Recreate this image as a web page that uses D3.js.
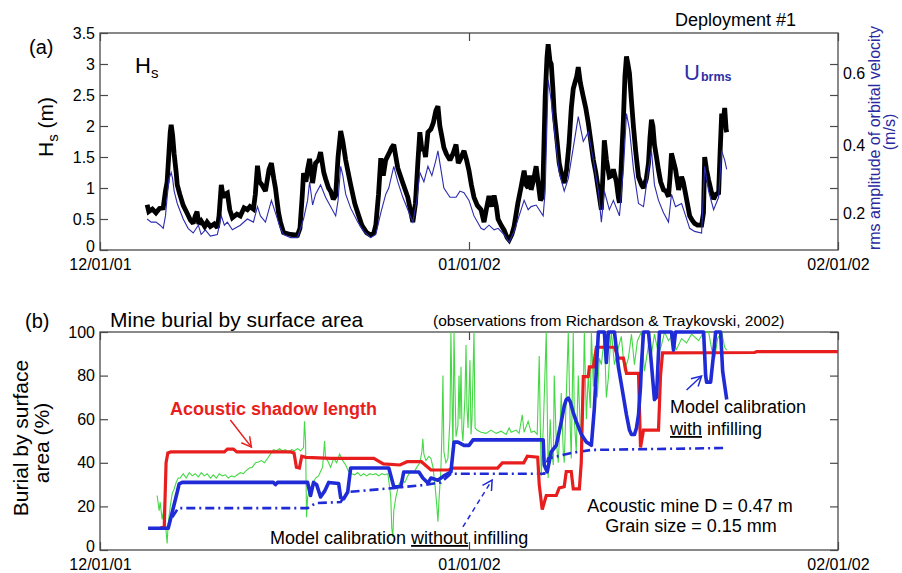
<!DOCTYPE html>
<html><head><meta charset="utf-8">
<script src="https://cdn.jsdelivr.net/npm/d3@7"></script>
<style>
body{margin:0;background:#fff;}
svg{display:block;font-family:Arial,"Liberation Sans",sans-serif;}
</style></head><body>
<svg id="c" width="902" height="573"></svg>
<script>
// ---------------- DATA ----------------
const startDate = "2001-12-01";
const xTickDays = [0, 31, 62];
const xTickLabels = ["12/01/01", "01/01/02", "02/01/02"];
const hsTicks = [0, 0.5, 1, 1.5, 2, 2.5, 3, 3.5];
const ubTicks = [0.2, 0.3, 0.4, 0.5, 0.6, 0.7];
const ubTickLabels = ["0.2", "", "0.4", "", "0.6", ""];
const burialTicks = [0, 20, 40, 60, 80, 100];

// Panel (a): significant wave height Hs (m), days since 12/01/01
const hsDays = [3.96,4.10,4.40,4.70,5.00,5.31,5.50,5.64,5.80,5.90,5.98,6.10,6.23,6.40,6.49,6.70,6.99,7.30,7.60,7.83,8.00,8.15,8.30,8.50,8.80,9.00,9.27,9.60,9.86,10.00,10.19,10.35,10.50,10.70,10.90,11.12,11.50,11.79,12.10,12.38,12.60,12.89,13.05,13.23,13.40,13.60,13.90,14.20,14.40,14.60,14.74,15.00,15.16,15.42,16.00,16.59,16.80,17.00,17.10,17.30,17.44,17.61,17.86,18.11,18.35,18.53,18.80,18.95,19.20,19.37,19.60,19.80,20.00,20.22,20.40,20.64,21.06,21.40,21.65,22.00,22.40,22.74,23.00,23.17,23.40,23.59,23.80,24.00,24.26,24.50,24.68,24.90,25.02,25.44,25.86,26.28,26.50,26.70,26.87,27.05,27.21,27.35,27.55,27.80,28.00,28.22,28.39,28.55,28.70,28.89,29.10,29.40,29.65,29.91,30.10,30.24,30.58,30.80,31.00,31.20,31.42,31.70,32.01,32.26,32.50,32.68,32.90,33.11,33.30,33.44,33.70,33.95,34.20,34.37,34.60,34.79,35.10,35.38,35.63,35.80,35.97,36.10,36.22,36.45,36.64,36.80,37.00,37.15,37.23,37.40,37.55,37.65,37.80,37.91,38.05,38.16,38.40,38.58,38.80,39.00,39.20,39.40,39.60,39.76,39.90,40.05,40.18,40.35,40.60,40.80,41.02,41.20,41.45,41.65,41.87,42.00,42.12,42.25,42.37,42.55,42.79,43.00,43.13,43.38,43.55,43.64,43.80,43.97,44.10,44.23,44.35,44.48,44.65,44.82,45.00,45.24,45.50,45.66,45.90,46.08,46.20,46.33,46.45,46.58,46.75,46.92,47.10,47.34,47.55,47.76,47.90,48.01,48.15,48.35,48.61,48.86,49.00,49.20,49.54,49.75,49.95,50.20,50.54,50.70,50.80,50.95,51.13,51.35,51.55,51.75,51.97,52.10,52.23,52.35,52.48,52.60,52.65];
const hsValues = [0.73,0.62,0.66,0.60,0.67,0.68,0.95,1.10,1.60,1.90,2.02,1.85,1.55,1.25,1.05,0.90,0.72,0.60,0.48,0.43,0.55,0.62,0.42,0.47,0.38,0.45,0.38,0.42,0.36,0.55,1.05,0.85,0.90,0.92,0.65,0.52,0.58,0.55,0.68,0.65,0.70,0.66,0.90,1.36,1.10,1.05,0.95,1.30,1.40,1.15,1.00,0.60,0.45,0.28,0.25,0.24,0.35,0.90,1.24,1.10,1.30,1.47,1.08,1.40,1.45,1.58,1.25,1.15,1.00,0.95,0.82,0.88,1.50,1.92,1.75,1.45,1.05,0.75,0.60,0.40,0.28,0.24,0.27,0.40,0.90,1.48,1.20,1.45,1.55,1.65,1.70,1.45,1.32,1.08,0.85,0.45,0.75,1.40,1.90,1.60,1.65,1.50,1.90,1.95,2.05,2.25,2.32,2.00,1.85,1.65,1.55,1.45,1.55,1.70,1.40,1.45,1.60,1.45,1.28,1.05,0.85,0.72,0.65,0.45,0.70,0.87,0.70,0.88,0.70,0.50,0.40,0.32,0.20,0.16,0.25,0.38,0.75,1.02,1.28,1.05,1.00,1.20,0.97,1.15,1.35,1.10,0.80,0.85,1.20,2.47,3.10,3.32,3.05,3.00,2.60,2.20,1.75,1.40,1.20,1.08,1.30,1.70,2.30,2.60,2.70,2.80,2.95,2.70,2.47,2.30,2.05,1.80,1.45,1.25,0.97,0.80,0.65,1.20,1.77,1.45,1.18,1.20,1.30,1.10,0.85,0.76,1.40,2.10,2.80,3.12,3.00,2.85,2.40,1.98,1.60,1.18,1.05,1.00,1.15,1.40,1.80,2.10,2.00,1.70,1.50,1.29,1.10,0.97,0.95,0.86,1.20,1.56,1.45,1.30,0.97,1.18,1.10,0.90,0.55,0.48,0.43,0.40,0.40,0.60,1.50,1.30,1.13,0.95,0.82,0.90,0.92,1.60,2.20,2.05,2.29,1.95,1.90];

// Panel (a): rms orbital velocity Ubrms (m/s)
const ubDays = [3.96,4.30,4.70,5.05,5.31,5.50,5.64,5.80,5.98,6.10,6.23,6.49,6.99,7.40,7.83,8.26,8.50,8.85,9.27,9.86,10.19,10.45,10.70,11.12,11.79,12.38,12.89,13.23,13.48,13.90,14.40,14.74,15.16,15.42,16.01,16.59,17.10,17.44,17.61,17.86,18.11,18.53,18.95,19.37,19.80,20.00,20.22,20.40,20.64,21.06,21.65,22.15,22.74,23.17,23.59,24.01,24.26,24.68,25.02,25.44,25.86,26.28,26.62,26.87,27.21,27.55,27.88,28.22,28.39,28.64,28.89,29.40,29.91,30.24,30.58,31.00,31.42,32.01,32.26,32.68,33.11,33.44,33.95,34.37,34.79,35.38,35.63,35.97,36.22,36.64,36.90,37.23,37.40,37.65,37.91,38.16,38.58,39.00,39.34,39.76,40.18,40.60,41.02,41.45,41.87,42.12,42.37,42.79,43.13,43.64,43.97,44.23,44.48,44.82,45.24,45.66,46.08,46.33,46.58,46.92,47.34,47.76,48.01,48.35,48.86,49.20,49.54,49.95,50.54,50.80,51.13,51.55,51.97,52.23,52.48,52.65];
const ubValues = [0.20,0.19,0.19,0.18,0.17,0.21,0.27,0.33,0.35,0.33,0.29,0.25,0.20,0.17,0.155,0.18,0.15,0.165,0.145,0.15,0.21,0.18,0.19,0.165,0.18,0.20,0.19,0.24,0.21,0.19,0.26,0.22,0.17,0.15,0.14,0.14,0.20,0.26,0.32,0.245,0.28,0.31,0.27,0.24,0.21,0.26,0.37,0.34,0.28,0.235,0.19,0.16,0.14,0.15,0.22,0.28,0.30,0.37,0.32,0.27,0.23,0.19,0.26,0.35,0.32,0.37,0.34,0.39,0.42,0.36,0.30,0.27,0.27,0.29,0.285,0.26,0.21,0.17,0.165,0.18,0.165,0.17,0.15,0.125,0.16,0.23,0.26,0.23,0.24,0.245,0.23,0.21,0.29,0.65,0.58,0.49,0.35,0.29,0.33,0.43,0.53,0.45,0.48,0.39,0.29,0.19,0.29,0.23,0.26,0.21,0.36,0.54,0.49,0.36,0.25,0.24,0.36,0.42,0.31,0.26,0.22,0.19,0.28,0.24,0.25,0.21,0.17,0.16,0.155,0.37,0.29,0.23,0.27,0.42,0.39,0.36];

// Panel (b): observed burial (%) (Richardson & Traykovski, 2002)
const obsDays = [4.80,4.97,5.05,5.22,5.39,5.56,5.64,5.73,5.90,6.07,6.23,6.40,6.57,6.74,6.99,7.24,7.50,7.75,8.00,8.26,8.51,8.76,9.01,9.27,9.52,9.77,10.02,10.28,10.53,10.78,11.04,11.29,11.54,11.79,12.05,12.30,12.55,12.80,13.06,13.31,13.56,13.82,14.07,14.32,14.57,14.83,15.08,15.33,15.58,15.84,16.09,16.34,16.60,16.85,17.10,17.18,17.27,17.35,17.44,17.61,17.86,18.11,18.36,18.53,18.70,18.87,18.95,19.12,19.37,19.63,19.88,20.13,20.39,20.64,20.89,21.14,21.40,21.65,21.90,22.15,22.41,22.66,22.91,23.17,23.42,23.67,23.92,24.18,24.35,24.43,24.51,24.60,24.68,24.85,25.10,25.36,25.61,25.86,26.11,26.37,26.62,26.87,27.04,27.12,27.21,27.38,27.63,27.80,27.97,28.14,28.30,28.39,28.47,28.64,28.73,28.81,28.89,29.06,29.23,29.40,29.48,29.57,29.65,29.74,29.82,29.91,30.07,30.16,30.24,30.33,30.41,30.49,30.66,30.75,30.83,30.92,31.08,31.17,31.25,31.42,31.51,31.67,32.01,32.43,32.85,33.28,33.70,34.12,34.37,34.54,34.96,35.21,35.47,35.63,35.97,36.22,36.48,36.73,36.90,36.98,37.07,37.23,37.32,37.49,37.65,37.82,37.91,38.08,38.16,38.33,38.50,38.67,38.75,38.92,39.00,39.17,39.34,39.51,39.59,39.76,39.85,40.01,40.18,40.35,40.44,40.60,40.69,40.86,41.02,41.19,41.28,41.45,41.53,41.78,41.95,42.12,42.37,42.54,42.71,42.88,42.96,43.22,43.55,43.80,44.06,44.39,44.65,44.90,45.15,45.49,45.74,46.08,46.33,46.58,46.92,47.17,47.43,47.76,48.01,48.43,48.86,49.28,49.70,50.29,50.71,51.13,51.39,51.64,51.89,52.23,52.48,52.65];
const obsBurial = [25,18,22,14,20,8,3,12,20,26,28,31,33,33,35,33,35.5,34,35,33.5,35.5,34,35,33,34.5,33,35,34,34.5,33,34,33.5,34.5,35.5,35,36.5,37.6,38,40,40.4,41,40,42,44,46,45.5,46.5,45.5,46,44.5,46,45.5,46.5,45.5,47,59,50,15,24,28,30,33,34,36,38,50,42,41,38,42,40,44,41,39,36,35,34.5,35.5,34,35,34,35,34.5,35,34,35,34.5,35,28,24,10,6,18,24,30,32,31,34,36,35.5,38,40,45,51,44,41,43,42,38,30,20,13,22,37,55,80,45,40,42,60,100,70,45,100,75,52,57,80,60,84,55,50,70,94,65,56,87,53,60,100,56,55,54,53.5,55,53.5,54.5,53,56,54,55,53.5,62,54,59,54,54.5,53,89,60,34,55,70,100,33,60,48,39,80,50,40,60,72,45,40,70,100,55,42,100,60,45,80,55,40,70,100,60,80,65,100,75,90,70,88,85,98,70,79,95,100,85,93,98,82,88,99,85,96,100,82,94,90,99,90,94,100,96,98,92,97,95,99,96,100,100,92,88,97,100,93,91.7];

// Panel (b): acoustic shadow length burial (%)
const shadowDays = [5.10,5.40,5.55,5.70,5.95,10.45,10.70,11.20,11.50,16.00,16.30,16.50,16.75,16.95,17.30,19.40,23.00,23.80,25.20,25.80,27.00,27.80,29.30,29.65,33.40,33.80,35.60,35.90,36.77,36.90,37.15,37.49,38.33,38.58,39.00,39.17,39.59,39.76,40.27,40.43,40.60,41.02,41.11,41.45,41.70,43.22,43.55,43.97,44.23,45.24,45.41,45.66,46.92,47.09,47.26,55.00,55.18,62.00];
const shadowBurial = [10,11,40,44.5,45,45,46.3,46.3,45,45,44.5,38,37.6,43,42.5,42,42,39.5,39,40.5,40.5,36.7,36.7,37.6,37.6,40,40,43,42.6,30,18.5,25,25,28.5,29,36,36,28,28,40,79.5,79.5,84,84,93,93,88,88,81,81,47,55,55,80,90.4,90.6,91,91];

// Panel (b): model calibration WITH infilling (%)
const withDays = [4.04,5.73,6.07,6.49,6.65,6.91,14.57,14.74,14.91,17.44,17.69,17.94,18.20,18.53,18.87,19.21,20.05,20.22,20.47,20.81,21.06,24.26,24.68,25.27,25.52,26.79,27.12,27.55,27.80,28.39,28.89,29.48,29.74,30.07,30.58,31.00,31.34,37.23,37.32,37.57,37.91,38.33,38.75,39.00,39.17,39.34,39.51,39.76,40.01,40.44,40.86,41.28,41.53,41.78,41.87,42.37,42.54,42.71,43.22,43.55,43.80,44.23,44.48,44.65,44.90,45.07,45.24,45.41,45.49,45.66,46.08,46.33,46.58,46.75,47.00,48.01,48.18,48.35,50.71,50.88,50.96,51.30,51.55,51.72,52.14,52.31,52.65];
const withBurial = [10,10,17.4,26.6,30.3,31,31,30,31,31,25,31,30,24.3,27,31,30.5,24,23.5,26.6,37.6,37.6,29,29,35.8,35.8,33,30.7,33,32,34,35.8,49.5,49.5,48,48,50.5,50.5,39,35.8,45,48,58.7,66,69,69.7,68,63,59,53,49.5,48,65,91,100,100,86,100,100,84,76,62,55,53,53,56,62,75,85,100,100,85,69,70,100,100,91.7,100,100,80,77,77,90,100,100,82,69];

// Panel (b): model calibration WITHOUT infilling (%)
const withoutDays = [6.07,6.57,17.44,18.11,20.22,20.81,24.60,27.21,28.64,29.48,37.32,37.65,39.59,41.28,52.65];
const withoutBurial = [15,19.2,19.2,21.5,22,26.6,28.4,29.8,31,35,35,42,44.5,45.9,46.8];

// ---------------- DRAWING ----------------
const svg = d3.select("#c");
const DAY_MS = 864e5;
const t0 = new Date(startDate + "T00:00:00Z").getTime();
const toDate = d => new Date(t0 + d * DAY_MS);
const zip = (a, b) => a.map((d, i) => [d, b[i]]);

const L = 100, R = 838;
const A = {top: 33, bottom: 250};
const B = {top: 332, bottom: 550};

const x = d3.scaleUtc().domain([toDate(0), toDate(62)]).range([L, R]);
const yHs = d3.scaleLinear().domain([0, 3.5]).range([A.bottom, A.top]);
const yUb = d3.scaleLinear().domain([0.1, 0.8]).range([A.bottom, A.top]);
const yB = d3.scaleLinear().domain([0, 100]).range([B.bottom, B.top]);

const frameColor = "#4a4a4a";
const tickDates = xTickDays.map(toDate);

function styleAxis(g) {
  g.select(".domain").remove();
  g.attr("font-family", null).attr("font-size", 16);
  g.selectAll(".tick line").attr("stroke", frameColor).attr("stroke-width", 1.2);
  g.selectAll(".tick text").attr("fill", "#000");
}

function panelAxes(top, bottom, yScale, yTicks, yFmt) {
  svg.append("g").attr("transform", `translate(0,${bottom})`)
    .call(d3.axisBottom(x).tickValues(tickDates).tickFormat((d, i) => xTickLabels[i])
      .tickSizeInner(-8).tickSizeOuter(0).tickPadding(9))
    .call(styleAxis);
  svg.append("g").attr("transform", `translate(0,${top})`)
    .call(d3.axisTop(x).tickValues(tickDates).tickFormat(() => "")
      .tickSizeInner(-8).tickSizeOuter(0))
    .call(styleAxis);
  const ly = svg.append("g").attr("transform", `translate(${L},0)`)
    .call(d3.axisLeft(yScale).tickValues(yTicks).tickFormat(yFmt)
      .tickSizeInner(-8).tickSizeOuter(0).tickPadding(5))
    .call(styleAxis);
  // lift the bottom "0" label slightly so it clears the date label below
  ly.selectAll(".tick text").filter(d => d === 0).attr("transform", "translate(0,-4)");
  svg.append("rect").attr("x", L).attr("y", top).attr("width", R - L).attr("height", bottom - top)
    .attr("fill", "none").attr("stroke", frameColor).attr("stroke-width", 1.3);
}

// ---------- Panel (a) ----------
panelAxes(A.top, A.bottom, yHs, hsTicks, d => String(d));
const rightA = svg.append("g").attr("transform", `translate(${R},0)`)
  .call(d3.axisRight(yUb).tickValues(ubTicks).tickFormat((d, i) => ubTickLabels[i])
    .tickSizeInner(-8).tickSizeOuter(0).tickPadding(5))
  .call(styleAxis);
const ubLabelShift = [-6, 0, -12, 0, -22, 0];
rightA.selectAll(".tick text").attr("transform", (d, i) => `translate(0,${ubLabelShift[i]})`);

const lineA = (ys) => d3.line().x(d => x(toDate(d[0]))).y(d => ys(d[1]));

svg.append("path").datum(zip(hsDays, hsValues))
  .attr("d", lineA(yHs)).attr("fill", "none").attr("stroke", "#000")
  .attr("stroke-width", 4.8).attr("stroke-linejoin", "miter").attr("stroke-miterlimit", 2);
svg.append("path").datum(zip(ubDays, ubValues))
  .attr("d", lineA(yUb)).attr("fill", "none").attr("stroke", "#2c2cb0")
  .attr("stroke-width", 1.1);

// panel (a) texts
svg.append("text").attr("x", 29).attr("y", 54).attr("font-size", 20).text("(a)");
svg.append("text").attr("x", 675).attr("y", 26).attr("font-size", 18).text("Deployment #1");
const hsT = svg.append("text").attr("x", 135).attr("y", 73).attr("font-size", 22).text("H");
hsT.append("tspan").attr("font-size", 15).attr("dy", 5).text("s");
const ubT = svg.append("text").attr("x", 684).attr("y", 80).attr("font-size", 22).attr("fill", "#2e2ea6").text("U");
ubT.append("tspan").attr("font-size", 12.5).attr("font-weight", "bold").attr("dy", 1).attr("dx", 1).text("brms");

const yLabA = svg.append("text").attr("transform", "translate(53,127) rotate(-90)")
  .attr("text-anchor", "middle").attr("font-size", 21).text("H");
yLabA.append("tspan").attr("font-size", 15).attr("dy", 5).text("s");
yLabA.append("tspan").attr("dy", -5).text(" (m)");

svg.append("text").attr("transform", "translate(880,138) rotate(-90)")
  .attr("text-anchor", "middle").attr("font-size", 16).attr("fill", "#2a2aa0")
  .text("rms amplitude of orbital velocity");
svg.append("text").attr("transform", "translate(895,132) rotate(-90)")
  .attr("text-anchor", "middle").attr("font-size", 16).attr("fill", "#2a2aa0")
  .text("(m/s)");

// ---------- Panel (b) ----------
panelAxes(B.top, B.bottom, yB, burialTicks, d => String(d));
svg.append("g").attr("transform", `translate(${R},0)`)
  .call(d3.axisRight(yB).tickValues(burialTicks).tickFormat(() => "")
    .tickSizeInner(-8).tickSizeOuter(0))
  .call(styleAxis);

const lineB = d3.line().x(d => x(toDate(d[0]))).y(d => yB(d[1]));

svg.append("path").datum(zip(obsDays, obsBurial)).attr("d", lineB)
  .attr("fill", "none").attr("stroke", "#45d845").attr("stroke-width", 1.1);
svg.append("path").datum(zip(withoutDays, withoutBurial)).attr("d", lineB)
  .attr("fill", "none").attr("stroke", "#1f2bd6").attr("stroke-width", 2.6)
  .attr("stroke-dasharray", "9,4,2,4");
svg.append("path").datum(zip(shadowDays, shadowBurial)).attr("d", lineB)
  .attr("fill", "none").attr("stroke", "#e81e1e").attr("stroke-width", 3.2);
svg.append("path").datum(zip(withDays, withBurial)).attr("d", lineB)
  .attr("fill", "none").attr("stroke", "#1f2bd6").attr("stroke-width", 3.6)
  .attr("stroke-linejoin", "round");

// panel (b) texts
svg.append("text").attr("x", 25).attr("y", 328).attr("font-size", 20).text("(b)");
svg.append("text").attr("x", 110).attr("y", 327).attr("font-size", 21).text("Mine burial by surface area");
svg.append("text").attr("x", 433).attr("y", 326).attr("font-size", 15.5)
  .text("(observations from Richardson & Traykovski, 2002)");
svg.append("text").attr("transform", "translate(28,438) rotate(-90)")
  .attr("text-anchor", "middle").attr("font-size", 21).text("Burial by surface");
svg.append("text").attr("transform", "translate(49,443) rotate(-90)")
  .attr("text-anchor", "middle").attr("font-size", 21).text("area (%)");

svg.append("text").attr("x", 170).attr("y", 415).attr("font-size", 18).attr("font-weight", "bold")
  .attr("fill", "#e81e1e").text("Acoustic shadow length");

const noInf = svg.append("text").attr("x", 270).attr("y", 544).attr("font-size", 18);
noInf.append("tspan").text("Model calibration ");
noInf.append("tspan").attr("text-decoration", "underline").text("without");
noInf.append("tspan").text(" infilling");

svg.append("text").attr("x", 670).attr("y", 413).attr("font-size", 18).text("Model calibration");
const wInf = svg.append("text").attr("x", 670).attr("y", 435).attr("font-size", 18);
wInf.append("tspan").attr("text-decoration", "underline").text("with");
wInf.append("tspan").text(" infilling");

svg.append("text").attr("x", 690).attr("y", 512).attr("font-size", 18).attr("text-anchor", "middle")
  .text("Acoustic mine D = 0.47 m");
svg.append("text").attr("x", 691).attr("y", 532).attr("font-size", 18).attr("text-anchor", "middle")
  .text("Grain size = 0.15 mm");

// annotation arrows (in data units: [day, burial %])
function arrow(from, to, color, width, dash) {
  const x1 = x(toDate(from[0])), y1 = yB(from[1]);
  const x2 = x(toDate(to[0])), y2 = yB(to[1]);
  svg.append("line").attr("x1", x1).attr("y1", y1).attr("x2", x2).attr("y2", y2)
    .attr("stroke", color).attr("stroke-width", width).attr("stroke-dasharray", dash || null);
  const ang = Math.atan2(y2 - y1, x2 - x1), hl = 11, sp = 0.5;
  const p1 = [x2 - hl * Math.cos(ang - sp), y2 - hl * Math.sin(ang - sp)];
  const p2 = [x2 - hl * Math.cos(ang + sp), y2 - hl * Math.sin(ang + sp)];
  svg.append("path").attr("d", `M${p1[0]},${p1[1]}L${x2},${y2}L${p2[0]},${p2[1]}`)
    .attr("fill", "none").attr("stroke", color).attr("stroke-width", width);
}
arrow([10.95, 59.6], [12.72, 47.2], "#e81e1e", 1.5);
arrow([30.49, 10.6], [32.94, 32.1], "#1f2bd6", 1.5, "5,4");
arrow([49.28, 73.4], [50.54, 79.8], "#1f2bd6", 1.5);
</script>
</body></html>
